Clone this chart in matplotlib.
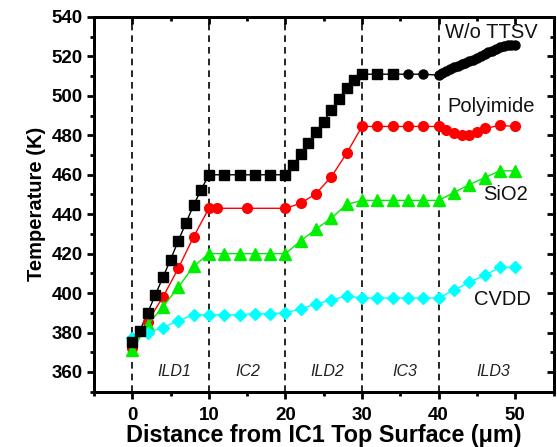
import matplotlib
matplotlib.use("Agg")
import matplotlib.pyplot as plt
from matplotlib.ticker import MultipleLocator

plt.rcParams['font.family'] = ['Liberation Sans', 'DejaVu Sans']

# ---- data ----
wo_x = [0, 1, 2, 3, 4, 5, 6, 7, 8, 9, 10, 12, 14, 16, 18, 20,
        21, 22, 23, 24, 25, 26, 27, 28, 29, 30, 32, 34,
        36, 38, 40, 40.5, 41, 41.5, 42, 42.5, 43, 43.5, 44, 44.5, 45,
        45.5, 46, 46.5, 47, 47.5, 48, 48.5, 49, 49.5, 50]
wo_y = [375, 381, 390, 399, 408, 417, 426.5, 435.5, 444.5, 452.5, 460, 460, 460, 460, 460, 460,
        465, 470.5, 476, 481.5, 487, 493, 498.5, 504, 508, 511, 511, 511,
        511, 511, 510.5, 511.5, 512.5, 513.5, 514.5, 515.3, 516, 516.8, 517.5, 518.3, 519,
        520, 521, 522, 523, 524, 525, 525.5, 526, 526, 526]

poly_x = [0, 2, 4, 6, 8, 10, 11, 15, 20, 22, 24, 26, 28, 30, 32, 34, 36, 38, 40,
          41, 42, 43, 44, 45, 46, 48, 50]
poly_y = [372, 385.5, 398, 412.5, 428.5, 443, 443, 443, 443, 445.5, 450.5, 459, 471, 484.5,
          484.5, 484.5, 484.5, 484.5, 484.5, 482.5, 481, 480, 480, 481.5, 483.5, 485, 484.5]

sio2_x = [0, 2, 4, 6, 8, 10, 12, 14, 16, 18, 20, 22, 24, 26, 28, 30, 32, 34, 36, 38, 40,
          42, 44, 46, 48, 50]
sio2_y = [371, 384, 393, 403, 413.5, 420, 420, 420, 420, 420, 420, 426.5, 432.5, 438, 445, 447,
          447, 447, 447, 447, 447, 451, 455, 458.5, 462, 462]

cvdd_x = [0, 2, 4, 6, 8, 10, 12, 14, 16, 18, 20, 22, 24, 26, 28, 30, 32, 34, 36, 38, 40,
          42, 44, 46, 48, 50]
cvdd_y = [377, 380, 382.5, 386, 389, 389, 389, 389, 389.5, 389.5, 390, 392, 394.5, 396.5, 398.5, 397.5,
          397.5, 397.5, 397.5, 397.5, 397.5, 401.5, 405.5, 409, 413, 413]

boundaries = [0, 10, 20, 30, 40]
regions = ["ILD1", "IC2", "ILD2", "IC3", "ILD3"]
region_x = [5.5, 15.1, 25.5, 35.6, 47.1]

series_labels = ["W/o TTSV", "Polyimide", "SiO2", "CVDD"]

# ---- figure ----
fig = plt.figure(figsize=(5.57, 4.47), dpi=100)
ax = fig.add_axes([94/557, 1 - 391.7/447, (553.5 - 94)/557, (391.7 - 17)/447])

for b in boundaries:
    ax.axvline(b, color='black', lw=1.2, ls=(0, (4, 3)), zorder=1)

# W/o TTSV: squares then circles
split = wo_x.index(36)
ax.plot(wo_x, wo_y, color='black', lw=1.0, zorder=3)
ax.plot(wo_x[:split], wo_y[:split], ls='none', marker='s', color='black', ms=6.5, zorder=4)
ax.plot(wo_x[split:], wo_y[split:], ls='none', marker='o', color='black', ms=6.5, zorder=4)

ax.plot(poly_x, poly_y, color='#ff0000', lw=1.0, marker='o', ms=7, zorder=3)
ax.plot(sio2_x, sio2_y, color='#00ee00', lw=1.0, marker='^', ms=8, zorder=3)
ax.plot(cvdd_x, cvdd_y, color='#00ffff', lw=1.0, marker='D', ms=6, zorder=3)

for lab, rx in zip(regions, region_x):
    ax.text(rx, 360, lab, style='italic', fontsize=11.5, color='#222222',
            ha='center', va='center')

label_pos = [(40.8, 532), (41.1, 494.5), (45.8, 450), (44.6, 397)]
for lab, (lx, ly) in zip(series_labels, label_pos):
    ax.text(lx, ly, lab, fontsize=14.5, color='#111111', ha='left', va='center')

ax.set_xlim(-5, 55)
ax.set_ylim(350, 540)
ax.xaxis.set_major_locator(MultipleLocator(10))
ax.xaxis.set_minor_locator(MultipleLocator(5))
ax.yaxis.set_major_locator(MultipleLocator(20))
ax.yaxis.set_minor_locator(MultipleLocator(10))
ax.set_xticks([0, 10, 20, 30, 40, 50])
ax.set_yticks(range(360, 541, 20))

ax.tick_params(axis='both', which='major', direction='out', length=5, width=2,
               labelsize=13.5, pad=3)
ax.tick_params(axis='both', which='minor', direction='out', length=3, width=2)
ax.tick_params(axis='x', which='major', pad=6)
for lbl in ax.get_xticklabels() + ax.get_yticklabels():
    lbl.set_fontweight('bold')

# inward ticks on top and right
ax2 = ax.twiny()
ax2.set_xlim(ax.get_xlim())
ax2.xaxis.set_major_locator(MultipleLocator(10))
ax2.xaxis.set_minor_locator(MultipleLocator(5))
ax2.tick_params(axis='x', which='major', direction='in', length=5, width=2, labeltop=False)
ax2.tick_params(axis='x', which='minor', direction='in', length=3, width=2)
ax3 = ax.twinx()
ax3.set_ylim(ax.get_ylim())
ax3.yaxis.set_major_locator(MultipleLocator(20))
ax3.yaxis.set_minor_locator(MultipleLocator(10))
ax3.tick_params(axis='y', which='major', direction='in', length=5, width=2, labelright=False)
ax3.tick_params(axis='y', which='minor', direction='in', length=3, width=2)

for a in (ax, ax2, ax3):
    for s in a.spines.values():
        s.set_linewidth(2)

ax.set_xlabel("Distance from IC1 Top Surface (\u03bcm)", fontsize=16.8, fontweight='bold', labelpad=0)
ax.set_ylabel("Temperature (K)", fontsize=14.5, fontweight='bold', labelpad=4)

fig.savefig("out.png", dpi=100)
